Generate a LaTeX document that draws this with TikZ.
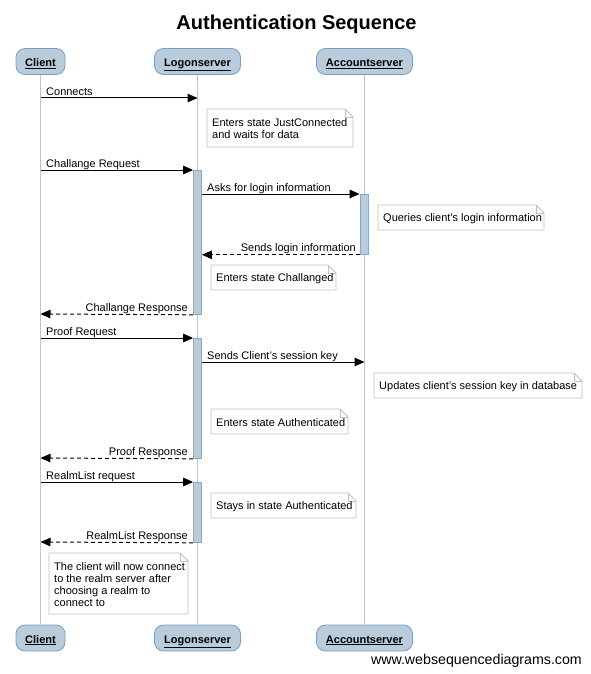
\documentclass[tikz,border=0pt]{standalone}
\usepackage{fontspec}
\setmainfont{Liberation Sans}
\usetikzlibrary{arrows.meta}

\definecolor{partfill}{HTML}{B8CCDC}
\definecolor{partline}{HTML}{7E9DBC}
\definecolor{actfill}{HTML}{B8CCDC}
\definecolor{actline}{HTML}{8AA7C4}
\definecolor{lifeline}{HTML}{C4C4C4}
\definecolor{noteline}{HTML}{C0C0C0}

\tikzset{
  participant/.style={draw=partline, fill=partfill, line width=0.8pt,
    rounded corners=9pt, minimum height=26pt, inner sep=0pt,
    text height=10pt, text depth=0pt,
    font=\fontsize{11}{13}\selectfont\bfseries},
  lifelinestyle/.style={draw=lifeline, line width=1pt},
  actbar/.style={draw=actline, fill=actfill, line width=0.8pt,
    minimum width=8pt, inner sep=0pt, anchor=north},
  msg/.style={draw=black, line width=1pt, -{Triangle[length=10pt,width=8.5pt]}},
  reply/.style={msg, dash pattern=on 4pt off 3pt},
  msglabel/.style={font=\fontsize{11}{13}\selectfont, inner sep=0pt},
  noteframe/.style={draw=noteline, fill=white, line width=0.8pt},
  notefold/.style={draw=noteline, line width=0.6pt},
  notetext/.style={font=\fontsize{11}{12}\selectfont, inner sep=0pt, align=left},
}

% note box: name, left x, top y, width, height, text
\newcommand\notebox[6]{%
  \draw[noteframe] (#2,#3) -- ({#2+#4-8},#3) -- ({#2+#4},{#3-8})
    -- ({#2+#4},{#3-#5}) -- (#2,{#3-#5}) -- cycle;
  \draw[notefold] ({#2+#4-8},#3) -- ({#2+#4-8},{#3-8}) -- ({#2+#4},{#3-8});
  \node[notetext, anchor=west] (#1) at ({#2+5},{#3-#5/2-1}) {#6};
}

\begin{document}
\begin{tikzpicture}[x=1pt, y=1pt]
  \useasboundingbox[fill=white] (0,0) rectangle (591,-674);

  % title
  \node[font=\fontsize{20}{24}\selectfont\bfseries, anchor=base, inner sep=0pt]
    (title) at (296.5,-30) {Authentication Sequence};

  % participants, top and bottom
  \node[participant, minimum width=49pt] (clientT) at (40.5,-61.5) {\underline{Client}};
  \node[participant, minimum width=86pt] (logonT) at (197.5,-61.5) {\underline{Logonserver}};
  \node[participant, minimum width=96pt] (accT) at (364.5,-61.5) {\underline{Accountserver}};
  \node[participant, minimum width=49pt] (clientB) at (40.5,-638) {\underline{Client}};
  \node[participant, minimum width=86pt] (logonB) at (197.5,-638) {\underline{Logonserver}};
  \node[participant, minimum width=96pt] (accB) at (364.5,-638) {\underline{Accountserver}};

  % lifelines
  \draw[lifelinestyle] (clientT) -- (clientB);
  \draw[lifelinestyle] (logonT) -- (logonB);
  \draw[lifelinestyle] (accT) -- (accB);

  % activation bars
  \node[actbar, minimum height=144pt] (act1) at (197.5,-170) {};
  \node[actbar, minimum height=60pt] (act2) at (364,-194) {};
  \node[actbar, minimum height=120pt] (act3) at (197.5,-338) {};
  \node[actbar, minimum height=60pt] (act4) at (197.5,-482) {};

  % message end points on the lifelines
  \coordinate (c98) at (40.5,-98);
  \coordinate (l98) at (197.5,-98);
  \coordinate (c170) at (40.5,-170);
  \coordinate (c314) at (40.5,-314);
  \coordinate (c338) at (40.5,-338);
  \coordinate (a362) at (364.5,-362);
  \coordinate (c458) at (40.5,-458);
  \coordinate (c482) at (40.5,-482);
  \coordinate (c542) at (40.5,-542);

  % messages
  \draw[msg] (c98) -- (l98);
  \node[msglabel, anchor=base west] (t1) at (46,-95.5) {Connects};

  \notebox{n1}{207}{-109}{146}{38}{Enters state JustConnected\\and waits for data}

  \draw[msg] (c170) -- (act1.north west);
  \node[msglabel, anchor=base west] (t2) at (46,-167.5) {Challange Request};

  \draw[msg] (act1.east |- act2.north) -- (act2.north west);
  \node[msglabel, anchor=base west] (t3) at (207,-191.5) {Asks for login information};

  \notebox{n2}{378}{-205}{166}{25}{Queries client's login information}

  \draw[reply] (act2.south west) -- (act1.east |- act2.south);
  \node[msglabel, anchor=base east] (t4) at (356,-251.5) {Sends login information};

  \notebox{n3}{211}{-265}{125}{25}{Enters state Challanged}

  \draw[reply] (act1.south west) -- (c314);
  \node[msglabel, anchor=base east] (t5) at (188,-311.5) {Challange Response};

  \draw[msg] (c338) -- (act3.north west);
  \node[msglabel, anchor=base west] (t6) at (46,-335.5) {Proof Request};

  \draw[msg] (act3.east |- a362) -- (a362);
  \node[msglabel, anchor=base west] (t7) at (207,-359.5) {Sends Client's session key};

  \notebox{n4}{374}{-373}{208}{25}{Updates client's session key in database}
  \notebox{n5}{211}{-409}{137}{25}{Enters state Authenticated}

  \draw[reply] (act3.south west) -- (c458);
  \node[msglabel, anchor=base east] (t8) at (188,-455.5) {Proof Response};

  \draw[msg] (c482) -- (act4.north west);
  \node[msglabel, anchor=base west] (t9) at (46,-479.5) {RealmList request};

  \notebox{n6}{211}{-493}{145}{25}{Stays in state Authenticated}

  \draw[reply] (act4.south west) -- (c542);
  \node[msglabel, anchor=base east] (t10) at (188,-539.5) {RealmList Response};

  \notebox{n7}{49}{-553}{139}{61}{The client will now connect\\to the realm server after\\choosing a realm to\\connect to}

  % footer
  \node[font=\fontsize{14.2}{16}\selectfont, anchor=base east, inner sep=0pt]
    (footer) at (582,-664) {www.websequencediagrams.com};
\end{tikzpicture}
\end{document}
